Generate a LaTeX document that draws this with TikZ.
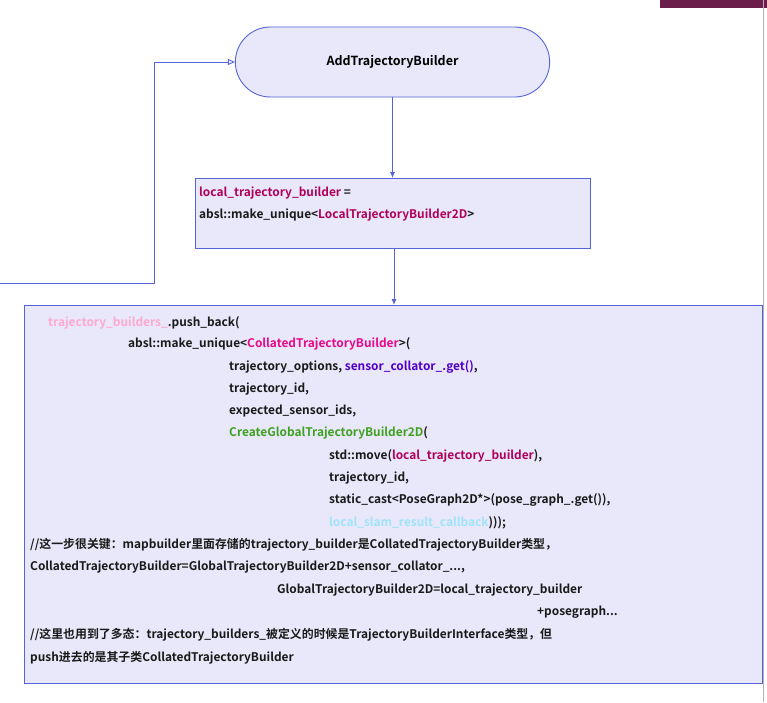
\documentclass[tikz,border=0pt]{standalone}
\usepackage{fontspec}
\setmainfont{Noto Sans CJK SC}[BoldFont={Noto Sans CJK SC Bold}]
\usetikzlibrary{arrows.meta,shapes.misc}
\definecolor{fillc}{HTML}{E8E8FA}
\definecolor{edge}{HTML}{5565D8}
\definecolor{pk}{HTML}{FFA8D0}
\definecolor{mg}{HTML}{E8088C}
\definecolor{pu}{HTML}{5000C8}
\definecolor{gr}{HTML}{40A020}
\definecolor{mr}{HTML}{B0005C}
\definecolor{cy}{HTML}{A0E4F8}
\definecolor{tx}{HTML}{1A1A1A}
\definecolor{tab}{HTML}{6B1E4A}
\tikzset{
  box/.style={draw=edge,fill=fillc,line width=0.9pt},
  t/.style={anchor=west,inner sep=0pt,font=\bfseries\fontsize{11.9}{13}\selectfont,text=tx},
  conn/.style={draw=edge,line width=0.9pt,-{Latex[length=6pt,width=5pt]}},
}
\begin{document}
\begin{tikzpicture}[x=1pt,y=-1pt]
\useasboundingbox (0,0) rectangle (767,702);
\fill[white] (0,0) rectangle (767,702);
\fill[tab] (660,0) rectangle (767,8);
\draw[gray!60,line width=0.6pt] (763,0) -- (763,702);
\node[box,rounded rectangle,minimum width=321pt,minimum height=70pt,font=\bfseries\fontsize{12.5}{14}\selectfont] (start) at (392.5,62) {AddTrajectoryBuilder};
\node[box,rectangle,minimum width=395pt,minimum height=70pt,anchor=north west] (lb) at (195,178) {};
\node[box,rectangle,minimum width=738pt,minimum height=378pt,anchor=north west] (big) at (24,305) {};
\draw[conn] (start.south) -- (start.south |- lb.north);
\draw[conn] (394,248) -- (394,305);
\coordinate (fb) at (0,283);
\draw[draw=edge,line width=0.9pt,-{Triangle[open,length=7pt,width=6pt]}] (fb) -- (154,283) -- (154,62) -- (start.west);
\node[t] (l1) at (199,193) {\textcolor{mr}{local\_trajectory\_builder} =};
\node[t] (l2) at (199,215) {absl::make\_unique<\textcolor{mr}{LocalTrajectoryBuilder2D}>};
\node[t] (a1) at (48,323) {\textcolor{pk}{trajectory\_builders\_}.push\_back(};
\node[t] (a2) at (128,344) {absl::make\_unique<\textcolor{mg}{CollatedTrajectoryBuilder}>(};
\node[t] (a3) at (229,367) {trajectory\_options, \textcolor{pu}{sensor\_collator\_.get()},};
\node[t] (a4) at (229,389) {trajectory\_id,};
\node[t] (a5) at (229,411) {expected\_sensor\_ids,};
\node[t] (a6) at (229,433) {\textcolor{gr}{CreateGlobalTrajectoryBuilder2D}(};
\node[t] (a7) at (329,456) {std::move(\textcolor{mr}{local\_trajectory\_builder}),};
\node[t] (a8) at (329,478) {trajectory\_id,};
\node[t] (a9) at (329,500) {static\_cast<PoseGraph2D*>(pose\_graph\_.get()),};
\node[t] (a10) at (329,523) {\textcolor{cy}{local\_slam\_result\_callback})));};
\node[t] (c1) at (30,545) {//这一步很关键：mapbuilder里面存储的trajectory\_builder是CollatedTrajectoryBuilder类型，};
\node[t] (c2) at (30,567) {CollatedTrajectoryBuilder=GlobalTrajectoryBuilder2D+sensor\_collator\_...,};
\node[t] (c3) at (277,590) {GlobalTrajectoryBuilder2D=local\_trajectory\_builder};
\node[t] (c4) at (537,612) {+posegraph...};
\node[t] (c5) at (30,635) {//这里也用到了多态：trajectory\_builders\_被定义的时候是TrajectoryBuilderInterface类型，但};
\node[t] (c6) at (30,658) {push进去的是其子类CollatedTrajectoryBuilder};
\end{tikzpicture}
\end{document}
